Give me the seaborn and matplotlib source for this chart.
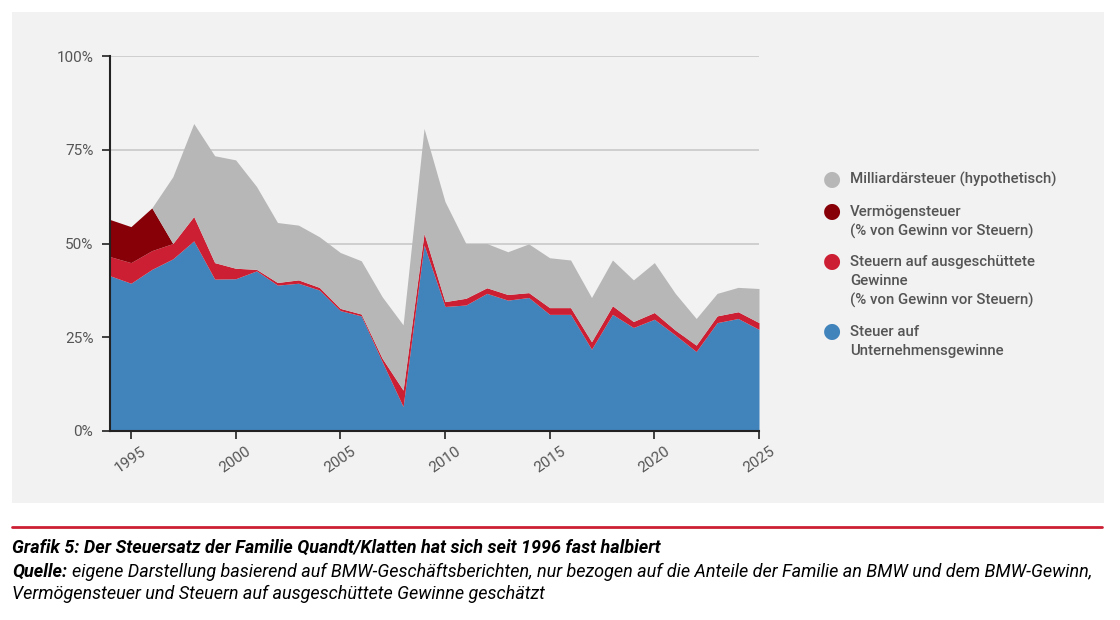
import matplotlib.pyplot as plt
import matplotlib.patches as mpatches
import matplotlib.ticker as mticker
import seaborn as sns

years = list(range(1994, 2026))

# Steuer auf Unternehmensgewinne (% von Gewinn vor Steuern)
corp_tax = [41.4, 39.4, 43.1, 45.9, 50.7, 40.5, 40.6, 42.7, 38.9, 39.4, 37.6,
            32.1, 30.7, 18.5, 6.5, 49.6, 33.2, 33.6, 36.7, 34.9, 35.6, 31.1,
            31.1, 21.8, 31.1, 27.6, 29.8, 25.6, 21.2, 28.9, 30.0, 27.1]
# Steuern auf ausgeschüttete Gewinne
dividend_tax = [5.1, 5.5, 5.0, 4.1, 6.5, 4.4, 2.8, 0.4, 0.7, 0.9, 0.7,
                0.6, 0.5, 0.9, 4.4, 3.1, 1.3, 1.8, 1.5, 1.5, 1.3, 1.8,
                1.8, 2.0, 2.3, 1.6, 1.8, 1.3, 1.7, 1.8, 1.8, 1.8]
# Vermögensteuer
wealth_tax = [9.9, 9.6, 11.4, 0, 0, 0, 0, 0, 0, 0, 0,
              0, 0, 0, 0, 0, 0, 0, 0, 0, 0, 0,
              0, 0, 0, 0, 0, 0, 0, 0, 0, 0]
# Milliardärsteuer (hypothetisch)
billionaire_tax = [0, 0, 0, 17.8, 24.8, 28.5, 28.9, 22.1, 16.0, 14.6, 13.5,
                   14.9, 14.2, 16.4, 17.4, 28.0, 26.7, 14.6, 11.8, 11.4, 13.0, 13.3,
                   12.7, 11.8, 12.2, 11.1, 13.3, 9.8, 7.1, 6.0, 6.5, 9.1]

labels = ["Steuer auf\nUnternehmensgewinne",
          "Steuern auf ausgeschüttete\nGewinne\n(% von Gewinn vor Steuern)",
          "Vermögensteuer\n(% von Gewinn vor Steuern)",
          "Milliardärsteuer (hypothetisch)"]
colors = ["#4183bb", "#cc1f33", "#870007", "#b7b7b7"]

bg = "#f2f2f2"
text_col = "#555555"

sns.set_style("white")
plt.rcParams['font.family'] = ['Roboto', 'DejaVu Sans']

fig = plt.figure(figsize=(11.2, 6.2), dpi=100)
fig.patch.set_facecolor("white")

# grey panel behind the chart
fig.patches.append(mpatches.Rectangle((12 / 1120, 1 - 503 / 620), 1092 / 1120, 491 / 620,
                                      transform=fig.transFigure, facecolor=bg,
                                      edgecolor="none", zorder=-10))

ax = fig.add_axes([110 / 1120, 1 - 431 / 620, 649 / 1120, 375 / 620])
ax.set_facecolor(bg)

ax.stackplot(years, corp_tax, dividend_tax, wealth_tax, billionaire_tax,
             colors=colors, linewidth=0, zorder=3)

ax.set_xlim(1994, 2025)
ax.set_ylim(0, 100)
ax.set_yticks([0, 25, 50, 75, 100])
ax.yaxis.set_major_formatter(mticker.FuncFormatter(lambda v, p: f"{int(v)}%"))
ax.set_xticks([1995, 2000, 2005, 2010, 2015, 2020, 2025])
for y in [25, 50, 75, 100]:
    ax.axhline(y, color="#cccccc", lw=1.3, zorder=1)

sns.despine(ax=ax, top=True, right=True)
for side in ["left", "bottom"]:
    ax.spines[side].set_color("#222222")
    ax.spines[side].set_linewidth(1.5)
    ax.spines[side].set_zorder(5)
ax.tick_params(axis="both", which="major", direction="out", length=6, width=1.2,
               color="#222222", labelsize=11, labelcolor=text_col, left=True, bottom=True)
ax.tick_params(axis="y", pad=6)
for lbl in ax.get_xticklabels():
    lbl.set_rotation(35)
    lbl.set_ha("center")

# legend drawn as text lines, top entry first
legend_rows = [(3, 179), (2, 212), (1, 262), (0, 332)]
for idx, ypx in legend_rows:
    fig.text(832 / 1120, 1 - ypx / 620, "●", color=colors[idx], fontsize=15,
             ha="center", va="center")
    fig.text(850 / 1120, 1 - (ypx - 7) / 620, labels[idx], color=text_col,
             fontsize=10.8, fontweight="medium", ha="left", va="top", linespacing=1.42)

# red rule and caption
fig.add_artist(plt.Line2D([12 / 1120, 1102 / 1120], [1 - 527 / 620, 1 - 527 / 620],
                          transform=fig.transFigure, color="#cc1f33", lw=2))
fig.text(12 / 1120, 1 - 548 / 620,
         "Grafik 5: Der Steuersatz der Familie Quandt/Klatten hat sich seit 1996 fast halbiert",
         fontsize=13, fontweight="bold", fontstyle="italic", color="black",
         ha="left", va="center")
quelle = fig.text(12 / 1120, 1 - 572 / 620, "Quelle:", fontsize=13, fontweight="bold",
                  fontstyle="italic", color="black", ha="left", va="center")
ax.annotate("eigene Darstellung basierend auf BMW-Geschäftsberichten, nur bezogen auf die Anteile "
            "der Familie an BMW und dem BMW-Gewinn,",
            xy=(1, 0.5), xycoords=quelle, xytext=(3.5, 0), textcoords="offset points",
            fontsize=13, fontstyle="italic", color="black", ha="left", va="center",
            annotation_clip=False)
fig.text(12 / 1120, 1 - 594 / 620,
         "Vermögensteuer und Steuern auf ausgeschüttete Gewinne geschätzt",
         fontsize=13, fontstyle="italic", color="black", ha="left", va="center")

fig.savefig("out.png", dpi=100, facecolor="white")
